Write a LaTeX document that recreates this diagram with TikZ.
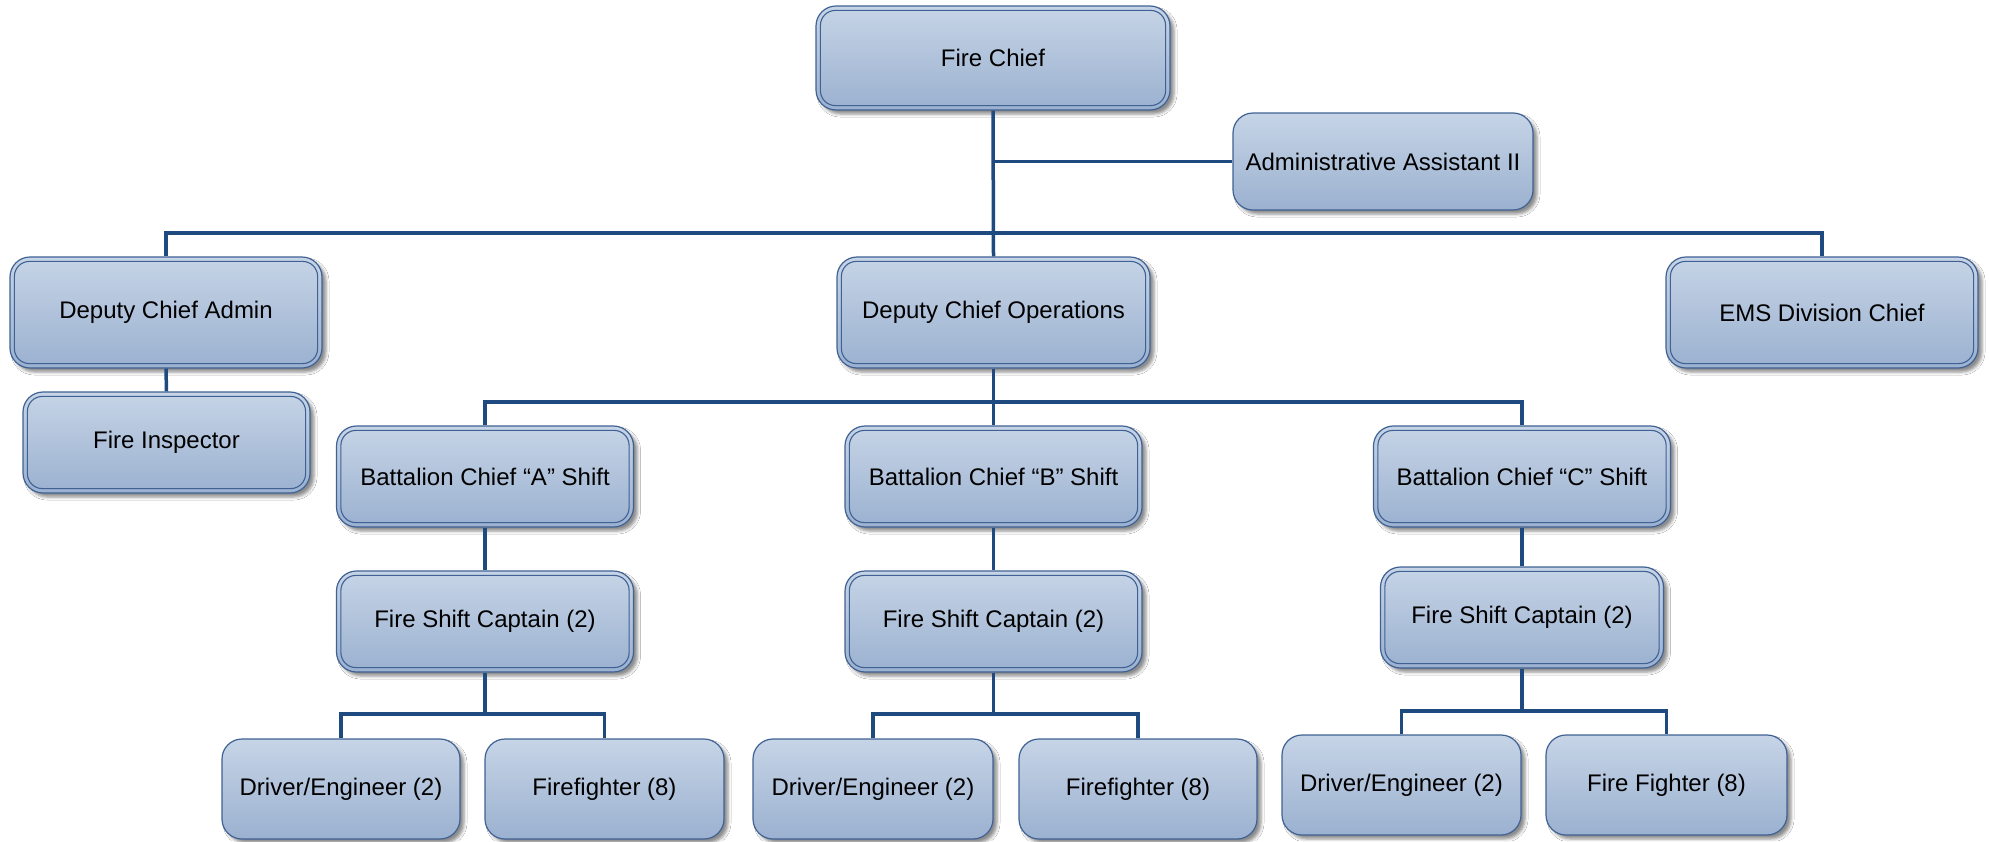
\documentclass[tikz,border=0pt]{standalone}
\usepackage{fontspec}
\setmainfont{Liberation Sans}
\usetikzlibrary{shadows.blur}

\definecolor{boxtop}{HTML}{C6D4E6}
\definecolor{boxbottom}{HTML}{9BB1D0}
\definecolor{boxline}{HTML}{3F6194}
\definecolor{wire}{HTML}{1F4A80}

\tikzset{
  orgbox/.style={
    rectangle, rounded corners=20pt, draw=boxline, line width=1.2pt,
    top color=boxtop, bottom color=boxbottom,
    font=\fontsize{24}{28}\selectfont, text=black, inner sep=0pt,
    blur shadow={shadow xshift=4pt, shadow yshift=-4pt,
                 shadow blur radius=3pt, shadow opacity=45}
  },
  inner border/.style={draw=boxline, line width=1.1pt, rounded corners=15pt},
  wire/.style={draw=wire, line width=3.5pt},
}

\begin{document}
\begin{tikzpicture}[x=1pt, y=-1pt]
  \useasboundingbox[fill=white] (0,0) rectangle (1989,841);

  % top level
  \node[orgbox, minimum width=354pt, minimum height=104pt] (fc)  at (993,58)  {Fire Chief};
  \node[orgbox, minimum width=300pt, minimum height=97pt]  (aa)  at (1383,161.5) {Administrative Assistant II};

  % deputies
  \node[orgbox, minimum width=312pt, minimum height=111pt] (dca) at (166,312.5)  {Deputy Chief Admin};
  \node[orgbox, minimum width=313pt, minimum height=111pt] (dco) at (993.5,312.5) {Deputy Chief Operations};
  \node[orgbox, minimum width=312pt, minimum height=111pt] (ems) at (1822,312.5) {EMS Division Chief};
  \node[orgbox, minimum width=287pt, minimum height=101pt] (fi)  at (166.5,442.5) {Fire Inspector};

  % battalion chiefs
  \node[orgbox, minimum width=297pt, minimum height=101pt] (bca) at (485,476.5)  {Battalion Chief “A” Shift};
  \node[orgbox, minimum width=297pt, minimum height=101pt] (bcb) at (993.5,476.5) {Battalion Chief “B” Shift};
  \node[orgbox, minimum width=297pt, minimum height=101pt] (bcc) at (1522,476.5) {Battalion Chief “C” Shift};

  % shift captains
  \node[orgbox, minimum width=297pt, minimum height=101pt] (fsa) at (485,621.5)  {Fire Shift Captain (2)};
  \node[orgbox, minimum width=297pt, minimum height=101pt] (fsb) at (993.5,621.5) {Fire Shift Captain (2)};
  \node[orgbox, minimum width=283pt, minimum height=101pt] (fsc) at (1522,617.5) {Fire Shift Captain (2)};

  % crews
  \node[orgbox, minimum width=238pt, minimum height=100pt] (dra) at (341,789)    {Driver/Engineer (2)};
  \node[orgbox, minimum width=239pt, minimum height=100pt] (ffa) at (604.5,789)  {Firefighter (8)};
  \node[orgbox, minimum width=240pt, minimum height=100pt] (drb) at (873,789)    {Driver/Engineer (2)};
  \node[orgbox, minimum width=238pt, minimum height=100pt] (ffb) at (1138,789)   {Firefighter (8)};
  \node[orgbox, minimum width=239pt, minimum height=100pt] (drc) at (1401.5,785) {Driver/Engineer (2)};
  \node[orgbox, minimum width=241pt, minimum height=100pt] (ffc) at (1666.5,785) {Fire Fighter (8)};

  % second outline on the management boxes
  \foreach \n in {fc,dca,dco,ems,fi,bca,bcb,bcc,fsa,fsb,fsc}
    \draw[inner border] ([xshift=5pt,yshift=-5pt]\n.north west)
                        rectangle ([xshift=-5pt,yshift=5pt]\n.south east);

  % junction points of the connector buses
  \coordinate (busTop) at (993,233);
  \coordinate (busOps) at (993.5,402);
  \coordinate (busA)   at (485,714);
  \coordinate (busB)   at (993.5,714);
  \coordinate (busC)   at (1522,711);

  % connectors
  \draw[wire] (fc.south) -- (dco.north);
  \draw[wire] (fc.south |- aa.west) -- (aa.west);
  \draw[wire] (dca.north) |- (busTop) -| (ems.north);
  \draw[wire] (dca.south) -- (fi.north);

  \draw[wire] (dco.south) -- (bcb.north);
  \draw[wire] (bca.north) |- (busOps) -| (bcc.north);

  \draw[wire] (bca.south) -- (fsa.north);
  \draw[wire] (bcb.south) -- (fsb.north);
  \draw[wire] (bcc.south) -- (fsc.north);

  \draw[wire] (fsa.south) -- (busA);
  \draw[wire] (dra.north) |- (busA) -| (ffa.north);
  \draw[wire] (fsb.south) -- (busB);
  \draw[wire] (drb.north) |- (busB) -| (ffb.north);
  \draw[wire] (fsc.south) -- (busC);
  \draw[wire] (drc.north) |- (busC) -| (ffc.north);
\end{tikzpicture}
\end{document}
